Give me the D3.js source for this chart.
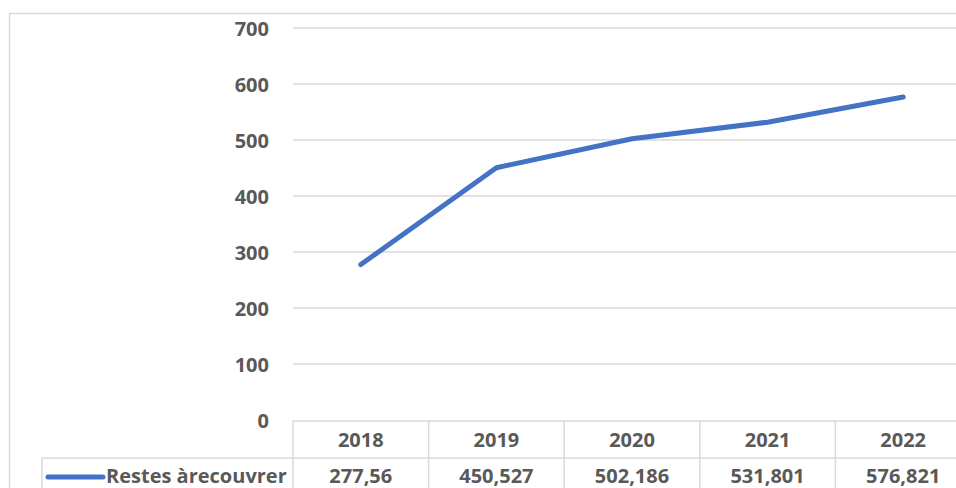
<!DOCTYPE html>
<html><head><meta charset="utf-8">
<script src="https://cdn.jsdelivr.net/npm/d3@7/dist/d3.min.js"></script>
<style>
html,body{margin:0;padding:0;background:#fff;overflow:hidden;}
svg{display:block;}
text{font-family:"Open Sans",sans-serif;font-weight:bold;fill:#595959;}
</style></head>
<body>
<svg id="chart" width="956" height="488"></svg>
<script>
const categories = ["2018","2019","2020","2021","2022"];
const seriesName = "Restes àrecouvrer";
const values = [277.56, 450.527, 502.186, 531.801, 576.821];
const valueLabels = ["277,56","450,527","502,186","531,801","576,821"];
const yTicks = [0,100,200,300,400,500,600,700];

const svg = d3.select("#chart");
const FS = "20px";
const plotLeft = 293, colW = 135.6;
const plotRight = plotLeft + colW * categories.length;
const y = d3.scaleLinear().domain([0,700]).range([420,28]);
const x = d3.scaleBand().domain(categories).range([plotLeft, plotRight]).padding(0);
const grid = "#d9d9d9";

// outer border
svg.append("rect").attr("x",9.5).attr("y",13.5).attr("width",1000).attr("height",600)
  .attr("fill","none").attr("stroke",grid).attr("stroke-width",1.5);

// gridlines
svg.append("g").selectAll("line").data(yTicks.filter(d=>d>0)).join("line")
  .attr("x1",plotLeft).attr("x2",plotRight)
  .attr("y1",d=>y(d)).attr("y2",d=>y(d))
  .attr("stroke",grid).attr("stroke-width",1.5);

// y axis labels
const yAxis = d3.axisLeft(y).tickValues(yTicks).tickSize(0).tickPadding(0);
const ga = svg.append("g").attr("transform",`translate(269,0)`).call(yAxis);
ga.select(".domain").remove();
ga.selectAll("text").attr("font-size",FS).attr("font-family","'Open Sans',sans-serif")
  .attr("font-weight","bold").attr("fill","#595959").attr("dy","0.35em");

// data table
const rowTop = 421, rowMid = 458, rowBot = 500;
const tg = svg.append("g").attr("stroke",grid).attr("stroke-width",1.5);
tg.append("line").attr("x1",plotLeft).attr("x2",plotRight).attr("y1",rowTop).attr("y2",rowTop);
tg.append("line").attr("x1",42).attr("x2",plotRight).attr("y1",rowMid).attr("y2",rowMid);
tg.selectAll("line.v").data(categories.concat(["end"])).join("line").attr("class","v")
  .attr("x1",(d,i)=>plotLeft+i*x.bandwidth()).attr("x2",(d,i)=>plotLeft+i*x.bandwidth())
  .attr("y1",rowTop).attr("y2",rowBot);
tg.append("line").attr("x1",42).attr("x2",42).attr("y1",rowMid).attr("y2",rowBot);

svg.append("g").selectAll("text").data(categories).join("text")
  .attr("x",d=>x(d)+x.bandwidth()/2).attr("y",(rowTop+rowMid)/2).attr("dy","0.35em")
  .attr("text-anchor","middle").attr("font-size",FS).text(d=>d);
svg.append("g").selectAll("text").data(valueLabels).join("text")
  .attr("x",(d,i)=>x(categories[i])+x.bandwidth()/2).attr("y",476).attr("dy","0.35em")
  .attr("text-anchor","middle").attr("font-size",FS).text(d=>d);

// legend key
svg.append("line").attr("x1",48).attr("x2",103).attr("y1",477).attr("y2",477)
  .attr("stroke","#4472C4").attr("stroke-width",5).attr("stroke-linecap","round");
svg.append("text").attr("x",106).attr("y",476).attr("dy","0.35em")
  .attr("font-size",FS).text(seriesName);

// line
const line = d3.line().x((d,i)=>x(categories[i])+x.bandwidth()/2).y(d=>y(d));
svg.append("path").datum(values).attr("d",line).attr("fill","none")
  .attr("stroke","#4472C4").attr("stroke-width",5)
  .attr("stroke-linecap","round").attr("stroke-linejoin","round");
</script>
</body></html>
